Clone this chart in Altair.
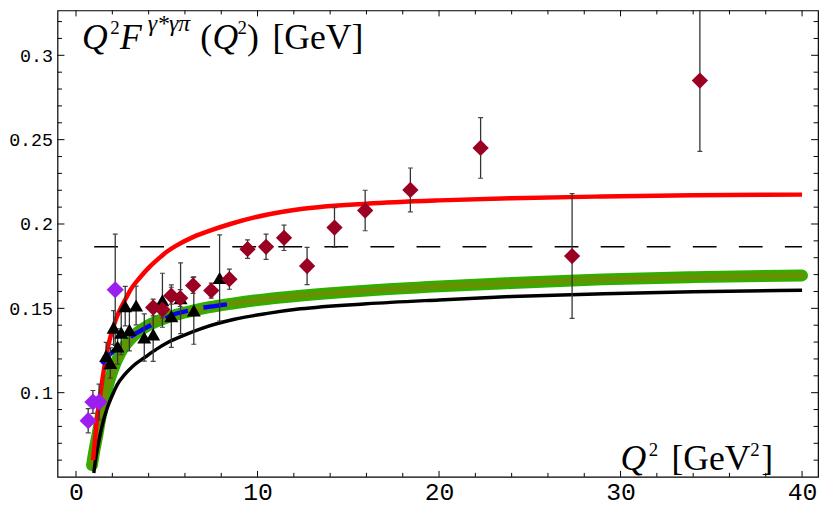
import altair as alt
import pandas as pd

# ---------------- data ----------------
red_q = [0.94, 1.05, 1.16, 1.3, 1.43, 1.6, 1.8, 2.0, 2.25, 2.5, 2.75, 3.0, 3.5, 4.0, 4.5, 5.0, 5.5,
         6.5, 7.5, 8.5, 10.5, 12.5, 16.0, 20.0, 24.0, 29.0, 34.0, 40.0]
red_v = [0.060, 0.073, 0.085, 0.096, 0.106, 0.118, 0.129, 0.137, 0.145, 0.151, 0.156, 0.161, 0.168,
         0.174, 0.179, 0.1835, 0.187, 0.1925, 0.1965, 0.2, 0.2055, 0.209, 0.212, 0.214, 0.2153,
         0.2163, 0.217, 0.2174]

black_q = [0.98, 1.1, 1.25, 1.45, 1.71, 2.0, 2.25, 2.7, 3.16, 3.8, 4.44, 5.1, 6.07, 6.9, 8.73,
           10.55, 12.36, 16.0, 20.0, 24.0, 29.1, 34.0, 40.0]
black_v = [0.0524, 0.062, 0.071, 0.081, 0.0906, 0.0985, 0.1043, 0.111, 0.116, 0.121, 0.1258, 0.130,
           0.1346, 0.138, 0.1435, 0.147, 0.1497, 0.1527, 0.155, 0.157, 0.1587, 0.1598, 0.1607]

green_q = [0.88, 1.0, 1.18, 1.35, 1.53, 1.75, 2.03, 2.44, 3.16, 4.0, 5.0, 6.0, 7.0, 8.7, 10.5, 12.4,
           16.0, 20.0, 24.0, 29.0, 34.0, 40.0]
green_v = [0.057, 0.065, 0.075, 0.0855, 0.0945, 0.104, 0.1135, 0.1235, 0.1336, 0.140, 0.1445,
           0.1475, 0.150, 0.153, 0.1555, 0.1575, 0.1605, 0.163, 0.165, 0.1672, 0.1685, 0.1695]

blue_q = [1.43, 1.65, 1.89, 2.3, 2.8, 3.2, 3.71, 4.2, 4.8, 5.4, 6.07, 6.7, 7.4, 8.2, 9.05]
blue_v = [0.117, 0.120, 0.1229, 0.127, 0.1317, 0.1345, 0.1376, 0.1405, 0.1434, 0.1465, 0.1483,
          0.150, 0.151, 0.1522, 0.1532]

asym_q = [1.0, 40.0]
asym_v = 0.1865

# CELLO (purple diamonds)
cello_q = [0.67, 0.93, 1.27, 2.16]
cello_v = [0.0834, 0.0945, 0.0945, 0.161]
cello_e = [0.0072, 0.0068, 0.0106, 0.033]

# CLEO (black triangles)
cleo_q = [1.66, 1.89, 2.07, 2.29, 2.49, 2.71, 2.94, 3.31, 3.76, 4.25, 4.76, 5.25, 5.76, 6.49, 7.91]
cleo_v = [0.1218, 0.1176, 0.1386, 0.1274, 0.1356, 0.1513, 0.1372, 0.1517, 0.1327, 0.1346, 0.1548,
          0.1454, 0.156, 0.1487, 0.168]
cleo_e = [0.008, 0.009, 0.010, 0.0105, 0.013, 0.0117, 0.0124, 0.0115, 0.014, 0.016, 0.016, 0.0185,
          0.021, 0.020, 0.0255]

# BaBar (dark red diamonds)
babar_q = [4.25, 4.76, 5.25, 5.74, 6.45, 7.45, 8.45, 9.45, 10.47, 11.46, 12.73, 14.24, 15.93, 18.42,
           22.29, 27.33, 34.37]
babar_v = [0.1505, 0.1493, 0.1575, 0.1561, 0.1636, 0.1605, 0.1673, 0.1851, 0.1865, 0.1918, 0.1751,
           0.1979, 0.208, 0.2202, 0.2451, 0.181, 0.285]
babar_e = [0.005, 0.005, 0.005, 0.005, 0.0047, 0.0045, 0.006, 0.0055, 0.0075, 0.0075, 0.011, 0.0118,
           0.012, 0.013, 0.018, 0.037, 0.042]

# tick positions
x_major = [0, 10, 20, 30, 40]
x_minor = [2, 4, 6, 8, 12, 14, 16, 18, 22, 24, 26, 28, 32, 34, 36, 38]
y_major = [0.1, 0.15, 0.2, 0.25, 0.3]
y_minor = [0.06, 0.07, 0.08, 0.09, 0.11, 0.12, 0.13, 0.14, 0.16, 0.17, 0.18, 0.19, 0.21, 0.22,
           0.23, 0.24, 0.26, 0.27, 0.28, 0.29, 0.31, 0.32]

# annotation pieces (data coordinates)
ann_it_big = [("Q", 0.33, 0.3039), ("F", 2.42, 0.3039), ("Q", 7.52, 0.3039), ("Q", 30.0, 0.0544)]
ann_up_big = [("(", 6.85, 0.3039), (")", 9.42, 0.3039), ("[GeV]", 10.82, 0.3039),
              ("[GeV", 32.8, 0.0544), ("]", 37.75, 0.0544)]
ann_up_sup = [("2", 1.88, 0.3127), ("2", 8.9, 0.3127), ("2", 31.55, 0.0624), ("2", 37.15, 0.0624)]
ann_it_sup = [("γ*γπ", 3.95, 0.3147)]

# ---------------- chart ----------------
W, H = 768, 471
xs = alt.Scale(domain=[-1.02, 40.88], nice=False, zero=False)
ys = alt.Scale(domain=[0.0501, 0.3266], nice=False, zero=False)
x_axis = alt.Axis(values=x_major, ticks=False, domain=False, grid=False, title=None,
                  labelFont="Liberation Mono", labelFontSize=25, labelPadding=3,
                  labelColor="black", labelFlush=False, format="d")
y_axis = alt.Axis(values=y_major, ticks=False, domain=False, grid=False, title=None,
                  labelFont="Liberation Mono", labelFontSize=18.5, labelPadding=5,
                  labelColor="black", labelFlush=False, format="~g")
X = lambda f="q": alt.X(f"{f}:Q", scale=xs, axis=x_axis)
Y = lambda f="v": alt.Y(f"{f}:Q", scale=ys, axis=y_axis)


def curve(qs, vs, **mk):
    df = pd.DataFrame({"q": qs, "v": vs})
    return alt.Chart(df).mark_line(interpolate="monotone", **mk).encode(x=X(), y=Y())


green = curve(green_q, green_v, color="#33ad00", strokeWidth=12, strokeCap="round")
olive = curve(green_q, green_v, color="#669100", strokeWidth=6, strokeCap="round")
black = curve(black_q, black_v, color="black", strokeWidth=3.5)
red = curve(red_q, red_v, color="#ff0000", strokeWidth=4.5)
blue = curve(blue_q, blue_v, color="#0000ff", strokeWidth=4.5, strokeDash=[24, 16])

asym = alt.Chart(pd.DataFrame({"q": [asym_q[0]], "q2": [asym_q[1]], "v": [asym_v]})).mark_rule(
    color="black", strokeWidth=1.5, strokeDash=[24, 22.5]).encode(x=X(), x2="q2:Q", y=Y())

pts = pd.concat([
    pd.DataFrame({"q": cello_q, "v": cello_v, "e": cello_e, "exp": "CELLO"}),
    pd.DataFrame({"q": cleo_q, "v": cleo_v, "e": cleo_e, "exp": "CLEO"}),
    pd.DataFrame({"q": babar_q, "v": babar_v, "e": babar_e, "exp": "BaBar"}),
], ignore_index=True)

eb_base = alt.Chart(pts).transform_calculate(lo="datum.v - datum.e", hi="datum.v + datum.e")
err_rule = eb_base.mark_rule(color="#333333", strokeWidth=1.3, clip=True).encode(
    x=X(), y=Y("lo"), y2="hi:Q")
cap_hi = eb_base.mark_rule(color="#444444", strokeWidth=1.2, xOffset=-2.5, x2Offset=2.5, clip=True).encode(
    x=X(), x2="q:Q", y=Y("hi"))
cap_lo = eb_base.mark_rule(color="#444444", strokeWidth=1.2, xOffset=-2.5, x2Offset=2.5, clip=True).encode(
    x=X(), x2="q:Q", y=Y("lo"))


def markers(exp, shape, color, size):
    return alt.Chart(pts).transform_filter(f"datum.exp == '{exp}'").mark_point(
        shape=shape, filled=True, color=color, opacity=1, size=size, strokeWidth=0).encode(x=X(), y=Y())


m_cleo = markers("CLEO", "triangle-up", "black", 200)
m_cello = markers("CELLO", "diamond", "#9b1eef", 300)
m_babar = markers("BaBar", "diamond", "#990022", 270)


def xticks(vals, length, top):
    y0, y1 = (0, length) if top else (H, H - length)
    return alt.Chart(pd.DataFrame({"q": vals})).mark_rule(color="black", strokeWidth=1).encode(
        x=X(), y=alt.value(y0), y2=alt.value(y1))


def yticks(vals, length, right):
    x0, x1 = (W, W - length) if right else (0, length)
    return alt.Chart(pd.DataFrame({"v": vals})).mark_rule(color="black", strokeWidth=1).encode(
        y=Y(), x=alt.value(x0), x2=alt.value(x1))


tick_layers = [xticks(x_major, 6, False), xticks(x_minor, 4, False),
               xticks(x_major, 6, True), xticks(x_minor, 4, True),
               yticks(y_major, 7, False), yticks(y_minor, 4.5, False),
               yticks(y_major, 7, True), yticks(y_minor, 4.5, True)]


def texts(items, size, style):
    df = pd.DataFrame(items, columns=["t", "q", "v"])
    return alt.Chart(df).mark_text(align="left", baseline="alphabetic", font="Liberation Serif",
                                   fontSize=size, fontStyle=style, color="black").encode(
        x=X(), y=Y(), text="t:N")


txt = [texts(ann_it_big, 36, "italic"), texts(ann_up_big, 36, "normal"),
       texts(ann_up_sup, 19, "normal"), texts(ann_it_sup, 24, "italic")]

chart = alt.layer(
    green, olive, black, red, blue, asym, err_rule, cap_hi, cap_lo, m_cleo, m_cello, m_babar,
    *tick_layers, *txt
).properties(
    width=W, height=H,
    autosize=alt.AutoSizeParams(type="none"),
    padding={"left": 50, "top": 0, "right": 4, "bottom": 30},
).configure_view(stroke="black", strokeWidth=1.2)

chart.save("out.html", embed_options={"renderer": "svg", "actions": False})
